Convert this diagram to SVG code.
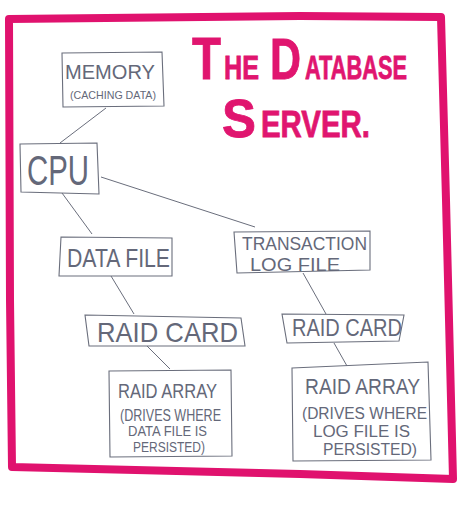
<svg xmlns="http://www.w3.org/2000/svg" width="474" height="506" viewBox="0 0 474 506">
<style>
.box{fill:none;stroke:#6a6e7c;stroke-width:1.1}
.con line{stroke:#6a6e7c;stroke-width:1}
.t{font-family:"Liberation Sans",Arial,sans-serif;fill:#646879;font-weight:normal}
.title{font-family:"Liberation Sans",Arial,sans-serif;fill:#e0156f;font-weight:bold;stroke:#e0156f;stroke-width:0.8}
</style>
<rect width="474" height="506" fill="#ffffff"/>
<path d="M9,19 L300,16 L441,17 L446,200 L453,479 L300,474 L12,467 L10,300 Z" fill="none" stroke="#e0126e" stroke-width="8" stroke-linejoin="round"/>
<g id="title">
<text class="title" x="192" y="79" font-size="60" textLength="29" lengthAdjust="spacingAndGlyphs">T</text>
<text class="title" x="224" y="79" font-size="34" textLength="35" lengthAdjust="spacingAndGlyphs">HE</text>
<text class="title" x="270" y="79" font-size="58" textLength="31" lengthAdjust="spacingAndGlyphs">D</text>
<text class="title" x="305" y="79" font-size="34" textLength="102" lengthAdjust="spacingAndGlyphs">ATABASE</text>
<text class="title" x="222" y="137" font-size="54" textLength="34" lengthAdjust="spacingAndGlyphs">S</text>
<text class="title" x="261" y="137" font-size="37" textLength="109" lengthAdjust="spacingAndGlyphs">ERVER.</text>
</g>
<g id="connectors" class="con">
<line x1="106" y1="108" x2="60" y2="143"/>
<line x1="62" y1="193" x2="92" y2="234"/>
<line x1="101" y1="177" x2="255" y2="227"/>
<line x1="111" y1="276" x2="134" y2="314"/>
<line x1="303" y1="273" x2="326" y2="314"/>
<line x1="147" y1="346" x2="170" y2="369"/>
<line x1="334" y1="343" x2="347" y2="366"/>
</g>
<g id="memory">
<polygon class="box" points="62,53 162,52 164,106 63,107"/>
<text class="t" x="65" y="79" font-size="20" textLength="90" lengthAdjust="spacingAndGlyphs">MEMORY</text>
<text class="t" x="70" y="99" font-size="11" textLength="86" lengthAdjust="spacingAndGlyphs">(CACHING DATA)</text>
</g>
<g id="cpu">
<polygon class="box" points="20,144 97,143 99,194 21,192"/>
<text class="t" x="27" y="185" font-size="42" textLength="62" lengthAdjust="spacingAndGlyphs">CPU</text>
</g>
<g id="datafile">
<polygon class="box" points="61,237 172,238 172,276 59,276"/>
<text class="t" x="67" y="267" font-size="26" textLength="103" lengthAdjust="spacingAndGlyphs">DATA FILE</text>
</g>
<g id="translog">
<polygon class="box" points="234,232 370,231 370,270 237,273"/>
<text class="t" x="242" y="250" font-size="18" textLength="125" lengthAdjust="spacingAndGlyphs">TRANSACTION</text>
<text class="t" x="250" y="271" font-size="18" textLength="90" lengthAdjust="spacingAndGlyphs">LOG FILE</text>
</g>
<g id="raidcard1">
<polygon class="box" points="85,315 241,318 245,346 89,346"/>
<text class="t" x="97" y="342" font-size="28" textLength="141" lengthAdjust="spacingAndGlyphs">RAID CARD</text>
</g>
<g id="raidcard2">
<polygon class="box" points="282,314 404,315 399,341 287,343"/>
<text class="t" x="292" y="336" font-size="24" textLength="110" lengthAdjust="spacingAndGlyphs">RAID CARD</text>
</g>
<g id="raidarray1">
<polygon class="box" points="109,371 231,370 232,456 110,457"/>
<text class="t" x="118" y="398" font-size="20" textLength="99" lengthAdjust="spacingAndGlyphs">RAID ARRAY</text>
<text class="t" x="120" y="421" font-size="16" textLength="101" lengthAdjust="spacingAndGlyphs">(DRIVES WHERE</text>
<text class="t" x="128" y="436" font-size="14" textLength="79" lengthAdjust="spacingAndGlyphs">DATA FILE IS</text>
<text class="t" x="133" y="452" font-size="14" textLength="72" lengthAdjust="spacingAndGlyphs">PERSISTED)</text>
</g>
<g id="raidarray2">
<polygon class="box" points="292,368 428,362 431,460 293,461"/>
<text class="t" x="305" y="394" font-size="22" textLength="115" lengthAdjust="spacingAndGlyphs">RAID ARRAY</text>
<text class="t" x="302" y="419" font-size="16" textLength="125" lengthAdjust="spacingAndGlyphs">(DRIVES WHERE</text>
<text class="t" x="313" y="437" font-size="16" textLength="97" lengthAdjust="spacingAndGlyphs">LOG FILE IS</text>
<text class="t" x="323" y="455" font-size="16" textLength="94" lengthAdjust="spacingAndGlyphs">PERSISTED)</text>
</g>
</svg>
